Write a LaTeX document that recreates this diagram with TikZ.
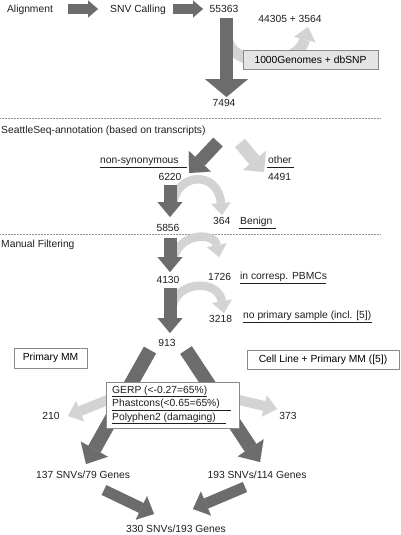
\documentclass[tikz,border=0pt]{standalone}
\usepackage{fontspec}
\setmainfont{Liberation Sans}
\usetikzlibrary{arrows.meta}
\definecolor{darkg}{HTML}{6C6C6C}
\definecolor{lightg}{HTML}{D3D3D3}
\definecolor{boxfill}{HTML}{E4E4E4}
\definecolor{boxline}{HTML}{8A8A8A}
\definecolor{txt}{HTML}{1E1E1E}
\begin{document}
\begin{tikzpicture}[x=1pt,y=-1pt,font=\fontsize{10.3}{12}\selectfont,
  lbl/.style={inner sep=0pt,anchor=base,text=txt},
  lblw/.style={inner sep=0pt,anchor=base west,text=txt},
  arr/.style n args={4}{draw=#1,line width=#2,
     -{Triangle[width=#3,length=#4,line width=0.01pt]}},
  uline/.style={draw=txt,line width=0.6pt},
  sep/.style={draw=gray!85,line width=0.6pt,dash pattern=on 0.8pt off 0.7pt},
  greybox/.style={draw=boxline,fill=boxfill,line width=0.6pt,inner sep=0pt},
  whitebox/.style={draw=boxline,fill=white,line width=0.6pt,inner sep=0pt}]
\useasboundingbox (0,0) rectangle (400,535);

% ---------- coordinates for arrows
\coordinate (a1s) at (68,9);   \coordinate (a1e) at (98,9);
\coordinate (a2s) at (173,9);  \coordinate (a2e) at (203,9);
\coordinate (v1s) at (226.5,18); \coordinate (v1e) at (226.5,97);
\coordinate (c1s) at (228,42); \coordinate (c1e) at (308,27);
\coordinate (d1s) at (218,142); \coordinate (d1e) at (189,173);
\coordinate (d2s) at (240,143); \coordinate (d2e) at (264,172);
\coordinate (v2s) at (170,185); \coordinate (v2e) at (170,217);
\coordinate (c2s) at (173,205); \coordinate (c2e) at (222,215);
\coordinate (v3s) at (170,238); \coordinate (v3e) at (170,272);
\coordinate (c3s) at (173,262); \coordinate (c3e) at (219,257);
\coordinate (v4s) at (170,288); \coordinate (v4e) at (170,333);
\coordinate (c4s) at (173,305); \coordinate (c4e) at (224,313);
\coordinate (l1s) at (150,350); \coordinate (l1e) at (86,464);
\coordinate (r1s) at (186,350); \coordinate (r1e) at (260,462);
\coordinate (lls) at (110,399); \coordinate (lle) at (68,416);
\coordinate (rls) at (235,399); \coordinate (rle) at (277,409);
\coordinate (b1s) at (104,490); \coordinate (b1e) at (154,514);
\coordinate (b2s) at (245,487); \coordinate (b2e) at (193,509);

% ---------- separators
\coordinate (s1a) at (0,118.5); \coordinate (s1b) at (380,118.5);
\coordinate (s2a) at (0,234.5); \coordinate (s2b) at (380,234.5);
\draw[sep] (s1a) -- (s1b);
\draw[sep] (s2a) -- (s2b);

% ---------- light arrows (behind)
\draw[arr={lightg}{11pt}{22pt}{13pt}] (c1s) .. controls (238,70) and (298,66) .. (c1e);
\draw[arr={lightg}{8.5pt}{20pt}{12pt}] (c2s) .. controls (176,172) and (218,170) .. (c2e);
\draw[arr={lightg}{8.5pt}{20pt}{12pt}] (c3s) .. controls (176,233) and (214,231) .. (c3e);
\draw[arr={lightg}{8.5pt}{20pt}{12pt}] (c4s) .. controls (178,281) and (218,279) .. (c4e);
\draw[arr={lightg}{13pt}{30pt}{15pt}] (d2s) -- (d2e);
\draw[arr={lightg}{10pt}{22pt}{13pt}] (lls) -- (lle);
\draw[arr={lightg}{10pt}{22pt}{13pt}] (rls) -- (rle);

% ---------- dark arrows
\draw[arr={darkg}{9.5pt}{17pt}{10pt}] (a1s) -- (a1e);
\draw[arr={darkg}{9.5pt}{17pt}{10pt}] (a2s) -- (a2e);
\draw[arr={darkg}{13pt}{43pt}{18pt}] (v1s) -- (v1e);
\draw[arr={darkg}{13pt}{30pt}{16pt}] (d1s) -- (d1e);
\draw[arr={darkg}{13pt}{25pt}{15pt}] (v2s) -- (v2e);
\draw[arr={darkg}{13pt}{25pt}{15pt}] (v3s) -- (v3e);
\draw[arr={darkg}{13pt}{25pt}{15pt}] (v4s) -- (v4e);
\draw[arr={darkg}{14pt}{31pt}{17pt}] (l1s) -- (l1e);
\draw[arr={darkg}{14pt}{31pt}{17pt}] (r1s) -- (r1e);
\draw[arr={darkg}{11pt}{26pt}{14pt}] (b1s) -- (b1e);
\draw[arr={darkg}{11pt}{26pt}{14pt}] (b2s) -- (b2e);

% ---------- boxes
\node[greybox,minimum width=135pt,minimum height=19pt] (kg) at (310.5,59.5) {1000Genomes + dbSNP};
\node[whitebox,minimum width=73pt,minimum height=20pt] (pmm) at (50.5,358) {Primary MM};
\node[whitebox,minimum width=152pt,minimum height=19pt] (cl) at (323,359.5) {Cell Line + Primary MM ([5])};
\node[whitebox,minimum width=133pt,minimum height=46pt] (flt) at (172.5,405) {};

% ---------- labels
\node[lbl] (t1) at (30,12.5) {Alignment};
\node[lbl] (t2) at (138,12.5) {SNV Calling};
\node[lbl] (t3) at (224,12.5) {55363};
\node[lbl] (t4) at (290,22.5) {44305 + 3564};
\node[lbl] (t5) at (224,106) {7494};
\node[lblw] (t6) at (1,133) {SeattleSeq-annotation (based on transcripts)};
\node[lblw] (t7) at (100,163) {non-synonymous};
\draw[uline] (100,166.8) -- (187,166.8);
\node[lbl] (t8) at (170,180) {6220};
\node[lblw] (t9) at (268,163) {other};
\draw[uline] (267,166.8) -- (294,166.8);
\node[lblw] (t10) at (268,180) {4491};
\node[lblw] (t11) at (213,224.5) {364};
\node[lblw] (t12) at (240,224.5) {Benign};
\draw[uline] (239,228) -- (276,228);
\node[lbl] (t13) at (168,231.5) {5856};
\node[lblw] (t14) at (1,247.5) {Manual Filtering};
\node[lbl] (t15) at (168,283.3) {4130};
\node[lblw] (t16) at (208,280.5) {1726};
\node[lblw] (t17) at (240,279.5) {in corresp. PBMCs};
\draw[uline] (240,283) -- (326,283);
\node[lblw] (t18) at (209,322.5) {3218};
\node[lblw] (t19) at (243,318.3) {no primary sample (incl. [5])};
\draw[uline] (243,322.3) -- (372,322.3);
\node[lbl] (t20) at (167,346.7) {913};
\node[lblw] (t21) at (112,393.3) {GERP (<-0.27=65\%)};
\draw[uline] (112,396) -- (207,396);
\node[lblw] (t22) at (112,406.7) {Phastcons(<0.65=65\%)};
\draw[uline] (112,410) -- (231,410);
\node[lblw] (t23) at (112,420) {Polyphen2 (damaging)};
\draw[uline] (112,423.5) -- (226,423.5);
\node[lbl] (t24) at (51,419) {210};
\node[lbl] (t25) at (288,419) {373};
\node[lbl] (t26) at (83,478.3) {137 SNVs/79 Genes};
\node[lbl] (t27) at (257,478.3) {193 SNVs/114 Genes};
\node[lbl] (t28) at (176,532.5) {330 SNVs/193 Genes};
\end{tikzpicture}
\end{document}
